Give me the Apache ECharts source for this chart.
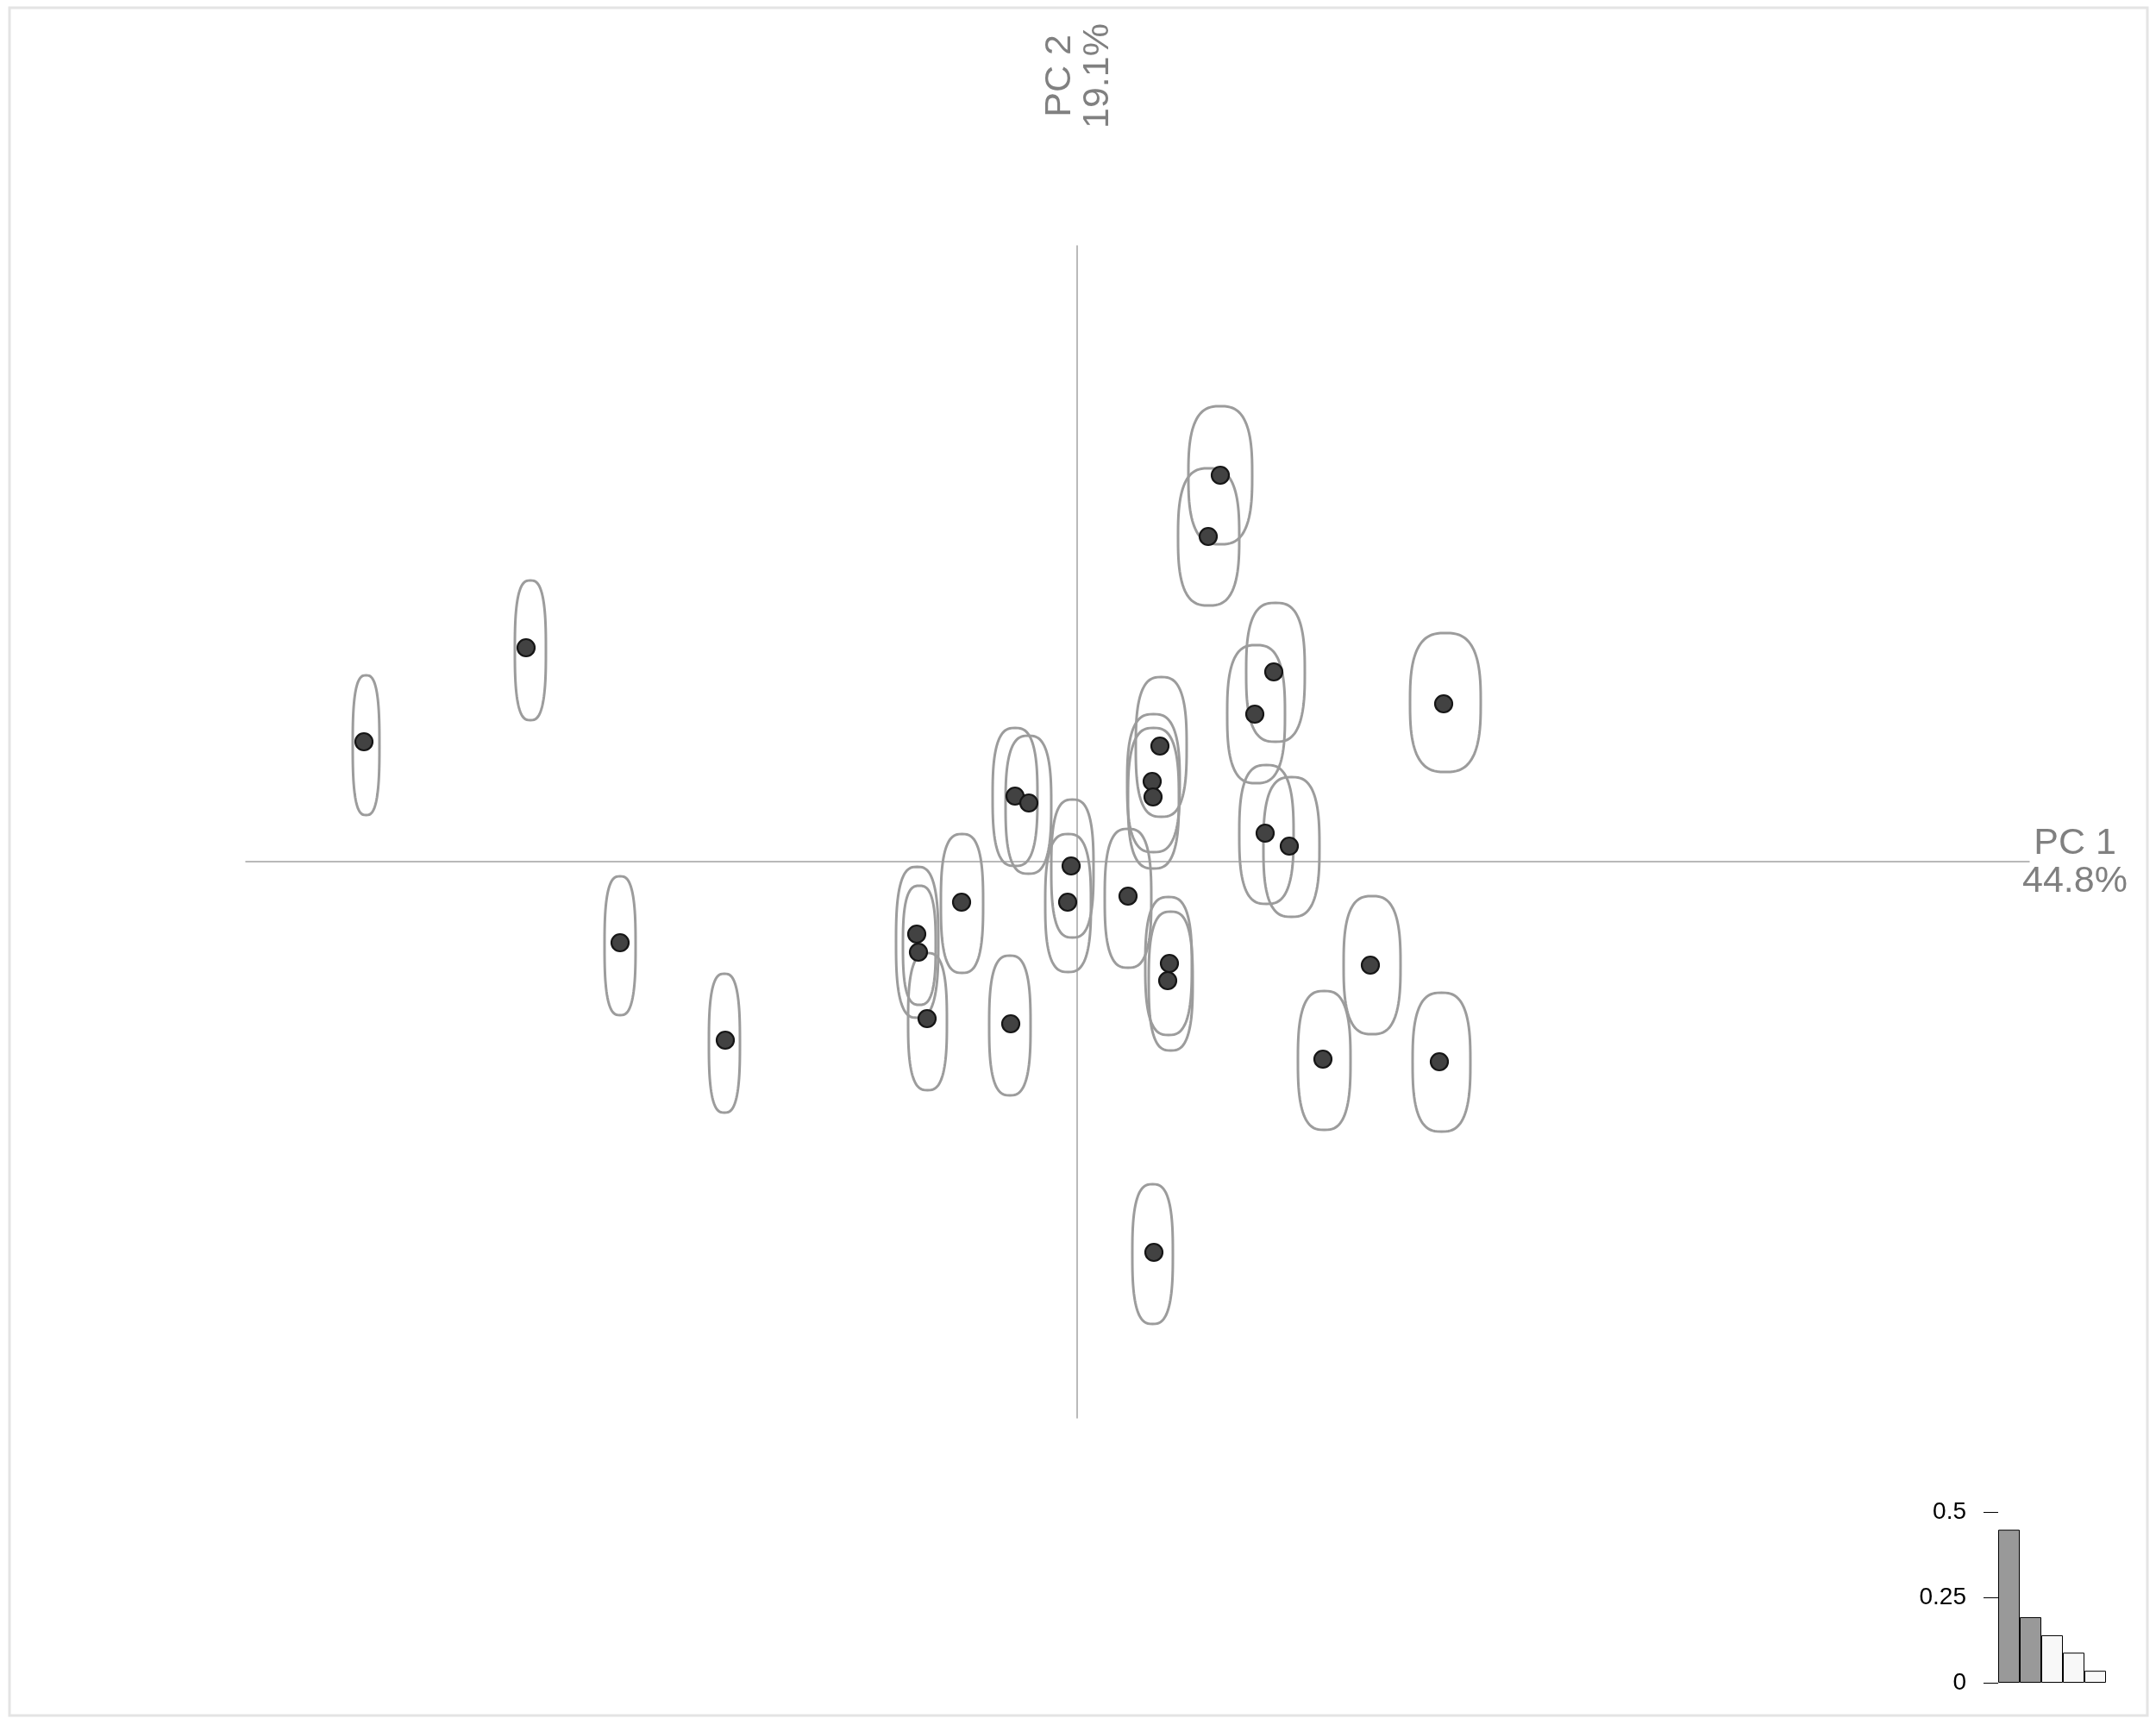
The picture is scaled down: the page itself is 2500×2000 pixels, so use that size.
<!DOCTYPE html>
<html>
<head>
<meta charset="utf-8">
<script src="https://cdn.jsdelivr.net/npm/echarts@6/dist/echarts.min.js"></script>
<style>
  html, body { margin: 0; padding: 0; background: #ffffff; }
  #chart { width: 2500px; height: 2000px; }
</style>
</head>
<body>
<div id="chart"></div>
<script>
// ---- data (PCA scores) ----
const pc1 = [-8.27, -6.39, -5.30, -4.08, -1.86, -1.84, -1.74, -1.34, -0.72, -0.56,
             -0.77, -0.07, -0.11, 0.59, 0.96, 0.87, 0.88, 1.07, 1.05, 0.89,
             1.66, 1.52, 2.28, 2.06, 2.18, 2.46, 4.25, 3.40, 2.85, 4.20];
const pc2 = [1.39, 2.48, -0.94, -2.07, -0.84, -1.05, -1.82, -0.47, 0.76, 0.68,
             -1.88, -0.05, -0.47, -0.40, 1.34, 0.93, 0.75, -1.18, -1.38, -4.53,
             4.48, 3.77, 2.20, 1.71, 0.33, 0.18, 1.83, -1.20, -2.29, -2.32];

// contour extents around each point (same order)
const contourLeft   = [-8.40, -6.52, -5.48, -4.27, -2.10, -2.02, -1.96, -1.58, -0.98, -0.83,
                       -1.02, -0.30, -0.37, 0.32, 0.68, 0.58, 0.59, 0.79, 0.83, 0.64,
                       1.29, 1.17, 1.96, 1.74, 1.88, 2.16, 3.86, 3.09, 2.56, 3.89];
const contourRight  = [-8.09, -6.16, -5.12, -3.91, -1.61, -1.64, -1.51, -1.09, -0.46, -0.30,
                       -0.54, 0.19, 0.16, 0.86, 1.27, 1.19, 1.18, 1.33, 1.34, 1.11,
                       2.03, 1.88, 2.64, 2.41, 2.51, 2.81, 4.68, 3.75, 3.17, 4.56];
const contourBottom = [0.54, 1.64, -1.78, -2.91, -1.81, -1.66, -2.65, -1.29, -0.05, -0.14,
                       -2.71, -0.88, -1.28, -1.23, 0.52, 0.11, -0.08, -2.01, -2.19, -5.36,
                       3.68, 2.97, 1.39, 0.91, -0.49, -0.64, 1.04, -2.00, -3.11, -3.13];
const contourTop    = [2.16, 3.26, -0.17, -1.30, -0.06, -0.28, -1.06, 0.32, 1.55, 1.46,
                       -1.09, 0.72, 0.32, 0.38, 2.14, 1.71, 1.55, -0.41, -0.58, -3.74,
                       5.28, 4.56, 3.00, 2.51, 1.12, 0.98, 2.65, -0.40, -1.50, -1.52];

const axisXName = 'PC 1';
const axisXPct = '44.8%';
const axisYName = 'PC 2';
const axisYPct = '19.1%';

// eigenvalue inset
const screeLabels = ['1', '2', '3', '4', '5'];
const screeValues = [0.448, 0.192, 0.139, 0.088, 0.035];
const screeKept = 2;
const screeTicks = [0, 0.25, 0.5];

// ---- build ----
const points = pc1.map((x, i) => [x, pc2[i]]);
const contours = contourLeft.map((l, i) => [l, contourRight[i], contourBottom[i], contourTop[i]]);

const chart = echarts.init(document.getElementById('chart'), null, { renderer: 'canvas' });

// rounded outline (superellipse) inscribed in a pixel box
function outline(x0, y0, x1, y1) {
  const cx = (x0 + x1) / 2, cy = (y0 + y1) / 2;
  const a = (x1 - x0) / 2, b = (y1 - y0) / 2;
  const e = 2 / 2.8;
  const pts = [];
  for (let k = 0; k < 96; k++) {
    const t = (k / 96) * Math.PI * 2;
    const c = Math.cos(t), s = Math.sin(t);
    pts.push([cx + a * Math.sign(c) * Math.pow(Math.abs(c), e),
              cy + b * Math.sign(s) * Math.pow(Math.abs(s), e)]);
  }
  return pts;
}

const option = {
  backgroundColor: '#ffffff',
  animation: false,
  textStyle: { fontFamily: 'Liberation Sans, Arial, sans-serif' },
  grid: [
    { left: 285, top: 285, width: 2068, height: 1359, containLabel: false },
    { left: 2317, top: 1753, width: 125, height: 198, containLabel: false }
  ],
  xAxis: [
    {
      gridIndex: 0, type: 'value', min: -9.64, max: 11.04,
      axisLine: { onZero: true, lineStyle: { color: '#a3a3a3', width: 1.5 } },
      axisTick: { show: false }, axisLabel: { show: false }, splitLine: { show: false }
    },
    {
      gridIndex: 1, type: 'category', data: screeLabels,
      axisLine: { show: false }, axisTick: { show: false }, axisLabel: { show: false },
      splitLine: { show: false }
    }
  ],
  yAxis: [
    {
      gridIndex: 0, type: 'value', min: -6.45, max: 7.14,
      axisLine: { onZero: true, lineStyle: { color: '#a3a3a3', width: 1.5 } },
      axisTick: { show: false }, axisLabel: { show: false }, splitLine: { show: false }
    },
    {
      gridIndex: 1, type: 'value', min: screeTicks[0], max: screeTicks[screeTicks.length - 1],
      interval: screeTicks[1] - screeTicks[0],
      axisLine: { show: false },
      axisTick: { show: true, length: 17, lineStyle: { color: '#000', width: 1 } },
      axisLabel: { show: true, margin: 37, fontSize: 28, color: '#000',
                   fontFamily: 'Liberation Sans, Arial, sans-serif' },
      splitLine: { show: false }
    }
  ],
  series: [
    {
      type: 'custom',
      xAxisIndex: 0, yAxisIndex: 0,
      data: contours,
      encode: { x: [0, 1], y: [2, 3] },
      z: 2,
      silent: true,
      renderItem: function (params, api) {
        const p1 = api.coord([api.value(0), api.value(3)]);
        const p2 = api.coord([api.value(1), api.value(2)]);
        return {
          type: 'polygon',
          shape: { points: outline(p1[0], p1[1], p2[0], p2[1]) },
          style: { fill: 'none', stroke: '#9c9c9c', lineWidth: 3 }
        };
      }
    },
    {
      type: 'scatter',
      xAxisIndex: 0, yAxisIndex: 0,
      data: points,
      symbol: 'circle',
      symbolSize: 20,
      z: 3,
      itemStyle: { color: '#424242', borderColor: '#161616', borderWidth: 2.2, opacity: 1 }
    },
    {
      type: 'bar',
      xAxisIndex: 1, yAxisIndex: 1,
      barCategoryGap: 0,
      data: screeValues.map((v, i) => ({
        value: v,
        itemStyle: { color: i < screeKept ? '#999999' : '#f8f8f8' }
      })),
      itemStyle: { borderColor: '#000000', borderWidth: 1 }
    }
  ],
  graphic: [
    {
      type: 'rect', z: 0, silent: true,
      shape: { x: 11, y: 9, width: 2479, height: 1980 },
      style: { fill: 'none', stroke: '#e4e4e4', lineWidth: 3 }
    },
    {
      type: 'text', z: 10, x: 2406, y: 1000,
      style: {
        text: axisXName + '\n' + axisXPct,
        fontSize: 43, lineHeight: 44, fill: '#808080',
        fontFamily: 'Liberation Sans, Arial, sans-serif',
        align: 'center', verticalAlign: 'middle'
      }
    },
    {
      type: 'text', z: 10, x: 1251, y: 88, rotation: Math.PI / 2,
      style: {
        text: axisYName + '\n' + axisYPct,
        fontSize: 43, lineHeight: 44, fill: '#808080',
        fontFamily: 'Liberation Sans, Arial, sans-serif',
        align: 'center', verticalAlign: 'middle'
      }
    }
  ]
};

chart.setOption(option);
</script>
</body>
</html>
